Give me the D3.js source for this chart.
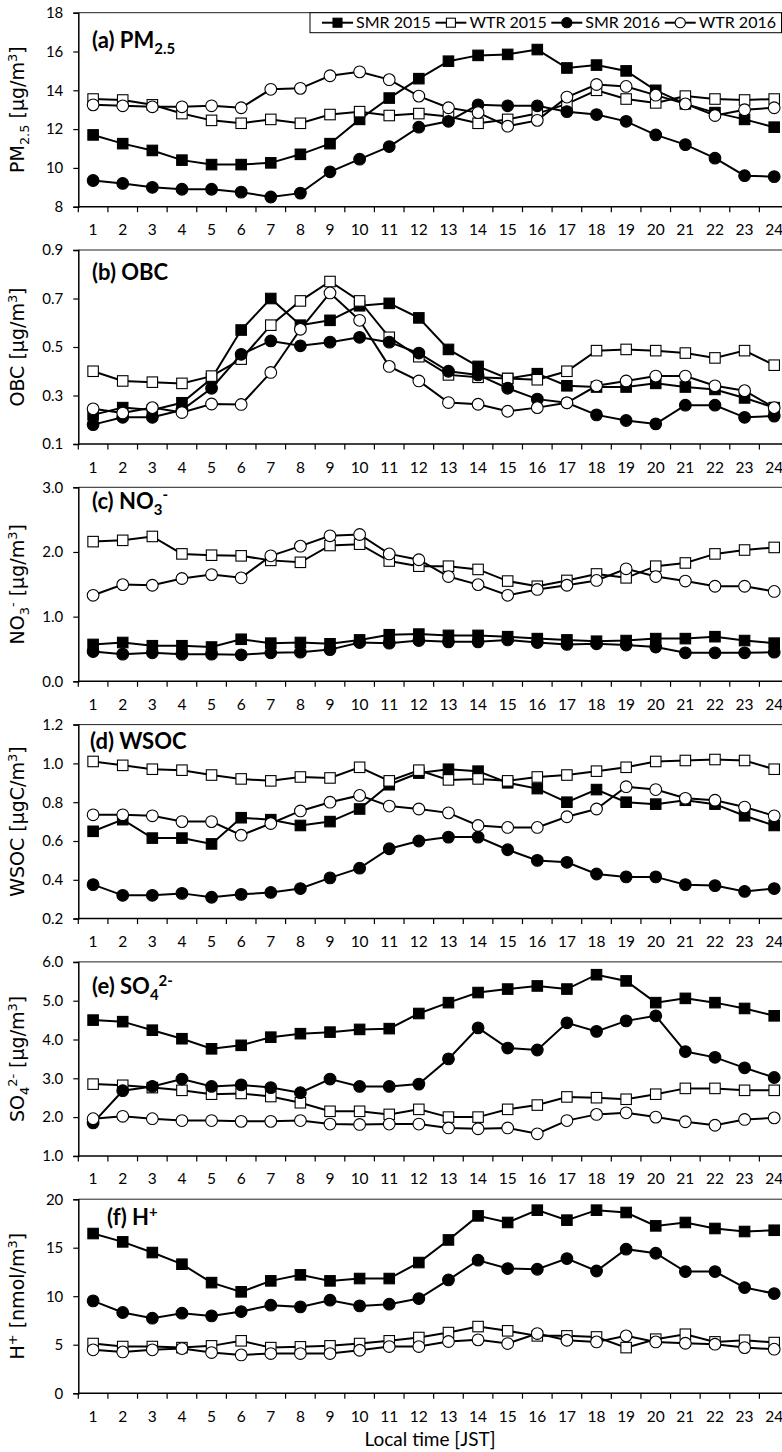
<!DOCTYPE html>
<html>
<head>
<meta charset="utf-8">
<script src="https://cdn.jsdelivr.net/npm/d3@7"></script>
<style>
  html, body { margin: 0; padding: 0; background: #fff; overflow: hidden; }
  svg { display: block; }
</style>
</head>
<body>
<svg id="chart" width="782" height="1452"></svg>
<script>
// Local time (hour of day, JST)
const hours = d3.range(1, 25);
const seriesNames = ["SMR 2015", "WTR 2015", "SMR 2016", "WTR 2016"];

// (a) PM2.5 [µg/m3]
const pm25Smr2015 = [11.7, 11.25, 10.9, 10.4, 10.17, 10.17, 10.26, 10.7, 11.25, 12.5, 13.6, 14.6, 15.5, 15.8, 15.85, 16.1, 15.15, 15.3, 15.0, 14.0, 13.3, 12.85, 12.5, 12.1];
const pm25Wtr2015 = [13.55, 13.5, 13.25, 12.8, 12.45, 12.3, 12.5, 12.3, 12.75, 12.9, 12.7, 12.8, 12.65, 12.3, 12.5, 12.8, 13.3, 14.0, 13.55, 13.35, 13.7, 13.55, 13.5, 13.55];
const pm25Smr2016 = [9.35, 9.2, 9.0, 8.9, 8.9, 8.75, 8.5, 8.7, 9.8, 10.45, 11.1, 12.1, 12.4, 13.25, 13.2, 13.2, 12.9, 12.75, 12.4, 11.7, 11.2, 10.5, 9.6, 9.55];
const pm25Wtr2016 = [13.25, 13.2, 13.15, 13.15, 13.2, 13.1, 14.05, 14.1, 14.75, 14.95, 14.55, 13.7, 13.1, 12.85, 12.15, 12.45, 13.65, 14.3, 14.2, 13.75, 13.3, 12.7, 13.0, 13.1];

// (b) OBC [µg/m3]
const obcSmr2015 = [0.22, 0.25, 0.24, 0.27, 0.37, 0.57, 0.70, 0.59, 0.61, 0.67, 0.68, 0.62, 0.49, 0.42, 0.37, 0.39, 0.34, 0.335, 0.335, 0.35, 0.335, 0.325, 0.29, 0.25];
const obcWtr2015 = [0.40, 0.36, 0.355, 0.35, 0.38, 0.45, 0.59, 0.69, 0.77, 0.69, 0.54, 0.46, 0.385, 0.375, 0.37, 0.365, 0.40, 0.485, 0.49, 0.485, 0.475, 0.455, 0.485, 0.425];
const obcSmr2016 = [0.18, 0.21, 0.21, 0.24, 0.33, 0.47, 0.525, 0.505, 0.52, 0.54, 0.52, 0.475, 0.40, 0.385, 0.33, 0.285, 0.27, 0.22, 0.197, 0.183, 0.26, 0.26, 0.21, 0.215];
const obcWtr2016 = [0.245, 0.228, 0.25, 0.23, 0.265, 0.263, 0.395, 0.573, 0.723, 0.61, 0.42, 0.36, 0.271, 0.264, 0.235, 0.25, 0.27, 0.34, 0.36, 0.38, 0.38, 0.34, 0.32, 0.25];

// (c) NO3- [µg/m3]
const no3Smr2015 = [0.57, 0.60, 0.55, 0.55, 0.53, 0.65, 0.59, 0.60, 0.58, 0.64, 0.72, 0.73, 0.71, 0.71, 0.69, 0.66, 0.64, 0.62, 0.63, 0.66, 0.66, 0.69, 0.63, 0.59];
const no3Wtr2015 = [2.16, 2.18, 2.24, 1.97, 1.95, 1.94, 1.87, 1.84, 2.1, 2.12, 1.86, 1.78, 1.78, 1.73, 1.55, 1.47, 1.56, 1.66, 1.6, 1.78, 1.83, 1.97, 2.03, 2.07];
const no3Smr2016 = [0.46, 0.42, 0.44, 0.42, 0.42, 0.41, 0.44, 0.45, 0.49, 0.60, 0.59, 0.63, 0.61, 0.61, 0.64, 0.60, 0.57, 0.58, 0.56, 0.53, 0.44, 0.44, 0.44, 0.45];
const no3Wtr2016 = [1.33, 1.495, 1.485, 1.59, 1.65, 1.6, 1.94, 2.09, 2.25, 2.27, 1.97, 1.88, 1.62, 1.495, 1.33, 1.42, 1.485, 1.56, 1.74, 1.62, 1.55, 1.47, 1.47, 1.39];

// (d) WSOC [µgC/m3]
const wsocSmr2015 = [0.65, 0.71, 0.615, 0.615, 0.585, 0.72, 0.71, 0.68, 0.70, 0.765, 0.89, 0.95, 0.97, 0.96, 0.90, 0.87, 0.80, 0.865, 0.80, 0.79, 0.81, 0.79, 0.73, 0.68];
const wsocWtr2015 = [1.01, 0.99, 0.97, 0.965, 0.94, 0.92, 0.91, 0.93, 0.925, 0.98, 0.91, 0.965, 0.915, 0.92, 0.91, 0.93, 0.94, 0.96, 0.98, 1.01, 1.015, 1.02, 1.015, 0.97];
const wsocSmr2016 = [0.375, 0.32, 0.32, 0.33, 0.31, 0.325, 0.335, 0.355, 0.41, 0.46, 0.56, 0.60, 0.62, 0.62, 0.555, 0.50, 0.49, 0.43, 0.415, 0.415, 0.375, 0.37, 0.34, 0.355];
const wsocWtr2016 = [0.735, 0.735, 0.73, 0.70, 0.70, 0.63, 0.69, 0.755, 0.80, 0.835, 0.78, 0.765, 0.745, 0.68, 0.67, 0.67, 0.725, 0.765, 0.88, 0.865, 0.82, 0.81, 0.775, 0.73];

// (e) SO4 2- [µg/m3]
const so4Smr2015 = [4.5, 4.46, 4.24, 4.02, 3.76, 3.85, 4.06, 4.15, 4.19, 4.26, 4.28, 4.67, 4.95, 5.21, 5.3, 5.38, 5.3, 5.67, 5.51, 4.95, 5.06, 4.95, 4.8, 4.61];
const so4Wtr2015 = [2.85, 2.82, 2.76, 2.69, 2.59, 2.61, 2.53, 2.37, 2.15, 2.15, 2.07, 2.2, 2.0, 2.0, 2.2, 2.31, 2.52, 2.5, 2.46, 2.59, 2.74, 2.74, 2.69, 2.69];
const so4Smr2016 = [1.85, 2.68, 2.79, 2.98, 2.79, 2.83, 2.76, 2.63, 2.98, 2.79, 2.79, 2.85, 3.5, 4.3, 3.78, 3.73, 4.43, 4.21, 4.48, 4.61, 3.69, 3.54, 3.27, 3.02];
const so4Wtr2016 = [1.96, 2.02, 1.96, 1.91, 1.91, 1.89, 1.89, 1.91, 1.82, 1.81, 1.82, 1.82, 1.72, 1.7, 1.72, 1.57, 1.91, 2.07, 2.11, 2.0, 1.88, 1.79, 1.94, 1.98];

// (f) H+ [nmol/m3]
const hSmr2015 = [16.46, 15.6, 14.5, 13.3, 11.4, 10.45, 11.58, 12.2, 11.58, 11.82, 11.82, 13.47, 15.8, 18.28, 17.6, 18.87, 17.84, 18.87, 18.63, 17.25, 17.6, 16.98, 16.67, 16.8];
const hWtr2015 = [5.12, 4.81, 4.81, 4.7, 4.88, 5.4, 4.7, 4.78, 4.88, 5.12, 5.4, 5.74, 6.25, 6.87, 6.43, 5.91, 5.91, 5.8, 4.7, 5.57, 6.08, 5.29, 5.46, 5.22];
const hSmr2016 = [9.52, 8.32, 7.73, 8.25, 7.97, 8.42, 9.07, 8.9, 9.59, 9.0, 9.18, 9.76, 11.68, 13.71, 12.85, 12.78, 13.88, 12.6, 14.85, 14.43, 12.54, 12.54, 10.89, 10.27];
const hWtr2016 = [4.47, 4.26, 4.47, 4.6, 4.19, 3.95, 4.09, 4.09, 4.09, 4.43, 4.81, 4.81, 5.33, 5.5, 5.12, 6.15, 5.46, 5.29, 5.91, 5.29, 5.15, 5.05, 4.7, 4.54];

// Y-axis tick values per panel
const pm25Ticks = [8, 10, 12, 14, 16, 18];
const obcTicks = [0.1, 0.3, 0.5, 0.7, 0.9];
const no3Ticks = [0, 1, 2, 3];
const wsocTicks = [0.2, 0.4, 0.6, 0.8, 1.0, 1.2];
const so4Ticks = [1, 2, 3, 4, 5, 6];
const hTicks = [0, 5, 10, 15, 20];

// Panel definitions: text pieces are [text, kind] with kind "n" normal, "sub", "sup"
const panels = [
  { series: [pm25Smr2015, pm25Wtr2015, pm25Smr2016, pm25Wtr2016], ticks: pm25Ticks, fmt: d3.format("d"),
    title: [["(a) PM", "n"], ["2.5", "sub"]], titleX: 92, titleDy: 35.5,
    ylabel: [["PM", "n"], ["2.5", "sub"], [" [µg/m", "n"], ["3", "sup"], ["]", "n"]] },
  { series: [obcSmr2015, obcWtr2015, obcSmr2016, obcWtr2016], ticks: obcTicks, fmt: d3.format(".1f"),
    title: [["(b) OBC", "n"]], titleX: 92, titleDy: 30,
    ylabel: [["OBC [µg/m", "n"], ["3", "sup"], ["]", "n"]] },
  { series: [no3Smr2015, no3Wtr2015, no3Smr2016, no3Wtr2016], ticks: no3Ticks, fmt: d3.format(".1f"),
    title: [["(c) NO", "n"], ["3", "sub"], ["-", "sup"]], titleX: 92, titleDy: 21.5,
    ylabel: [["NO", "n"], ["3", "sub"], ["-", "sup"], [" [µg/m", "n"], ["3", "sup"], ["]", "n"]] },
  { series: [wsocSmr2015, wsocWtr2015, wsocSmr2016, wsocWtr2016], ticks: wsocTicks, fmt: d3.format(".1f"),
    title: [["(d) WSOC", "n"]], titleX: 90, titleDy: 24,
    ylabel: [["WSOC [µgC/m", "n"], ["3", "sup"], ["]", "n"]] },
  { series: [so4Smr2015, so4Wtr2015, so4Smr2016, so4Wtr2016], ticks: so4Ticks, fmt: d3.format(".1f"),
    title: [["(e) SO", "n"], ["4", "sub"], ["2-", "sup"]], titleX: 92, titleDy: 32,
    ylabel: [["SO", "n"], ["4", "sub"], ["2-", "sup"], [" [µg/m", "n"], ["3", "sup"], ["]", "n"]] },
  { series: [hSmr2015, hWtr2015, hSmr2016, hWtr2016], ticks: hTicks, fmt: d3.format("d"),
    title: [["(f) H", "n"], ["+", "sup"]], titleX: 107, titleDy: 26,
    ylabel: [["H", "n"], ["+", "sup"], [" [nmol/m", "n"], ["3", "sup"], ["]", "n"]] }
];

// Marker styles per series: shape and fill
const markerStyles = [
  { shape: "square", fill: "#000" },
  { shape: "square", fill: "#fff" },
  { shape: "circle", fill: "#000" },
  { shape: "circle", fill: "#fff" }
];

const svg = d3.select("#chart");
const plotLeft = 78.3;
const plotRight = 789;   // plot area runs slightly past the page edge
const firstTop = 12.7;
const pitch = 237.3;
const plotH = 194;

const x = d3.scaleBand().domain(hours).range([plotLeft, plotRight]).paddingInner(0).paddingOuter(0);
const cx = h => x(h) + x.bandwidth() / 2;

const tickFont = "Lato, 'Open Sans', sans-serif";
const labelFont = "'DejaVu Sans', Verdana, sans-serif";

// Add rich text pieces (sub/superscripts) as tspans
function richText(sel, pieces, size) {
  let shift = 0;
  pieces.forEach(([t, kind]) => {
    let target = 0, fs = size;
    if (kind === "sub") { target = size * 0.28; fs = size * 0.68; }
    else if (kind === "sup") { target = -size * 0.38; fs = size * 0.68; }
    sel.append("tspan")
      .attr("dy", target - shift)
      .attr("font-size", fs)
      .text(t);
    shift = target;
  });
}

function drawMarker(g, style, px, py, size) {
  if (style.shape === "square") {
    g.append("rect")
      .attr("x", px - size / 2).attr("y", py - size / 2)
      .attr("width", size).attr("height", size)
      .attr("fill", style.fill).attr("stroke", "#000").attr("stroke-width", 1.1);
  } else {
    g.append("circle")
      .attr("cx", px).attr("cy", py).attr("r", size / 2 + 0.6)
      .attr("fill", style.fill).attr("stroke", "#000").attr("stroke-width", 1.1);
  }
}

panels.forEach((p, i) => {
  const top = firstTop + i * pitch;
  const bottom = top + plotH;
  const y = d3.scaleLinear()
    .domain([p.ticks[0], p.ticks[p.ticks.length - 1]])
    .range([bottom, top]);

  const g = svg.append("g").attr("class", "panel");

  // plot area top border
  g.append("line")
    .attr("x1", plotLeft).attr("x2", plotRight)
    .attr("y1", top).attr("y2", top)
    .attr("stroke", "#222").attr("stroke-width", 1);

  // Y axis
  const yAxis = d3.axisLeft(y).tickValues(p.ticks).tickFormat(p.fmt).tickSize(5).tickPadding(10);
  const ya = g.append("g").attr("transform", `translate(${plotLeft},0)`).call(yAxis);
  ya.select(".domain").attr("stroke", "#000").attr("stroke-width", 1.5);
  ya.selectAll(".tick line").attr("stroke", "#000").attr("stroke-width", 1.2);
  ya.selectAll(".tick text").attr("font-family", tickFont).attr("font-size", 15).attr("fill", "#000");

  // X axis (ticks at hour boundaries, labels centred in each hour)
  const xa = g.append("g").attr("transform", `translate(0,${bottom})`);
  xa.append("line").attr("x1", plotLeft).attr("x2", plotRight)
    .attr("stroke", "#000").attr("stroke-width", 1.5);
  const bounds = hours.map(h => x(h)).concat([plotRight]);
  xa.selectAll("line.tk").data(bounds).join("line").attr("class", "tk")
    .attr("x1", d => d).attr("x2", d => d).attr("y1", 0).attr("y2", 5.5)
    .attr("stroke", "#000").attr("stroke-width", 1.2);
  xa.selectAll("text").data(hours).join("text")
    .attr("x", d => cx(d)).attr("y", 28.5)
    .attr("text-anchor", "middle")
    .attr("font-family", tickFont).attr("font-size", 15.5).attr("fill", "#000")
    .text(d => d);

  // Y-axis label
  const yl = g.append("text")
    .attr("transform", `translate(24,${(top + bottom) / 2}) rotate(-90)`)
    .attr("text-anchor", "middle")
    .attr("font-family", labelFont).attr("font-size", 19).attr("fill", "#000");
  richText(yl, p.ylabel, 19);

  // Panel title
  const tt = g.append("text")
    .attr("x", p.titleX).attr("y", top + p.titleDy)
    .attr("font-family", tickFont).attr("font-weight", "bold").attr("font-size", 22).attr("fill", "#000");
  richText(tt, p.title, 22);

  // Series: line then markers, in legend order
  const line = d3.line().x((d, k) => cx(hours[k])).y(d => y(d));
  p.series.forEach((vals, s) => {
    const sg = g.append("g");
    sg.append("path").datum(vals).attr("d", line)
      .attr("fill", "none").attr("stroke", "#000").attr("stroke-width", 2);
    vals.forEach((v, k) => drawMarker(sg, markerStyles[s], cx(hours[k]), y(v), 10.5));
  });
});

// Legend in panel (a)
const lg = svg.append("g");
const lgTop = 12.7, lgH = 20, lgLeft = 310, lgRight = 781.5;
lg.append("rect").attr("x", lgLeft).attr("y", lgTop).attr("width", lgRight - lgLeft).attr("height", lgH)
  .attr("fill", "#fff").attr("stroke", "#000").attr("stroke-width", 1);
const lgTexts = seriesNames.map(n => lg.append("text")
  .attr("font-family", tickFont).attr("font-size", 16).attr("fill", "#000")
  .attr("y", lgTop + lgH / 2 + 5.5).text(n));
const symW = 31, symGap = 3;
const textW = lgTexts.map(t => t.node().getComputedTextLength());
const totalInner = d3.sum(textW) + seriesNames.length * (symW + symGap);
const startX = 322, endX = 776;
const sep = (endX - startX - totalInner) / (seriesNames.length - 1);
let cxL = startX;
seriesNames.forEach((n, s) => {
  lg.append("line").attr("x1", cxL).attr("x2", cxL + symW)
    .attr("y1", lgTop + lgH / 2).attr("y2", lgTop + lgH / 2)
    .attr("stroke", "#000").attr("stroke-width", 2);
  drawMarker(lg, markerStyles[s], cxL + symW / 2, lgTop + lgH / 2, 9);
  lgTexts[s].attr("x", cxL + symW + symGap).raise();
  cxL += symW + symGap + textW[s] + sep;
});

// X-axis title
svg.append("text")
  .attr("x", 430).attr("y", 1446)
  .attr("text-anchor", "middle")
  .attr("font-family", tickFont).attr("font-size", 19).attr("fill", "#000")
  .text("Local time [JST]");
</script>
</body>
</html>
